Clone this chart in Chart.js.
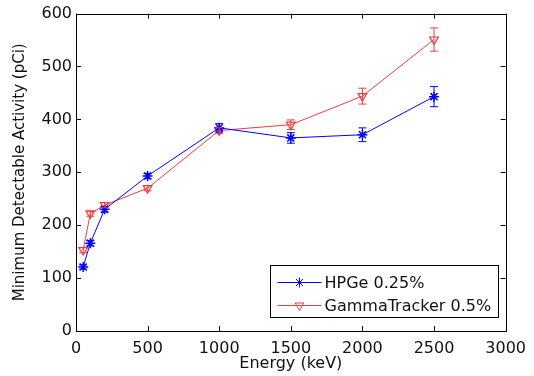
<!DOCTYPE html>
<html>
<head>
<meta charset="utf-8">
<script src="https://cdn.jsdelivr.net/npm/chart.js@4.4.1/dist/chart.umd.min.js"></script>
<style>
    html, body { margin: 0; padding: 0; background: #fff; }
    #wrap { width: 534px; height: 376px; }
</style>
</head>
<body>
<div id="wrap"><canvas id="mdaChart"></canvas></div>
<script>
// energies (keV) and minimum detectable activity (pCi)
const energias = [50, 100, 200, 500, 1000, 1500, 2000, 2500];
const hpgeMda = [121, 166, 230, 293, 384, 365, 371, 443];
const hpgeErr = [4, 5, 5, 5, 8, 10, 13, 19];
const gammaMda = [153, 222, 238, 270, 379, 390, 444, 551];
const gammaErr = [5, 5, 5, 5, 6, 9, 15, 22];
const xTicks = [0, 500, 1000, 1500, 2000, 2500, 3000];
const yTicks = [0, 100, 200, 300, 400, 500, 600];

const AZUL = '#0000ff';
const ROJO = '#f03c3c';
const FONT = "'DejaVu Sans', sans-serif";

const toPoints = (vals) => energias.map((e, i) => ({ x: e, y: vals[i] }));

// marco estilo MATLAB: caja completa con ticks hacia dentro
const framePlugin = {
    id: 'frame',
    afterDraw(chart) {
        const { ctx, chartArea: a, scales } = chart;
        const len = 5;
        ctx.save();
        ctx.strokeStyle = '#000';
        ctx.lineWidth = 1;
        ctx.beginPath();
        xTicks.forEach(v => {
            const px = Math.round(scales.x.getPixelForValue(v)) + 0.5;
            ctx.moveTo(px, a.bottom); ctx.lineTo(px, a.bottom - len);
            ctx.moveTo(px, a.top); ctx.lineTo(px, a.top + len);
        });
        yTicks.forEach(v => {
            const py = Math.round(scales.y.getPixelForValue(v)) + 0.5;
            ctx.moveTo(a.left, py); ctx.lineTo(a.left + len, py);
            ctx.moveTo(a.right, py); ctx.lineTo(a.right - len, py);
        });
        ctx.stroke();
        ctx.strokeRect(Math.round(a.left) + 0.5, Math.round(a.top) + 0.5,
            Math.round(a.right - a.left), Math.round(a.bottom - a.top));
        ctx.restore();
    }
};

// barras de error con los valores de cada serie
const errorPlugin = {
    id: 'errores',
    afterDatasetsDraw(chart) {
        const { ctx, scales } = chart;
        const cap = 4;
        ctx.save();
        ctx.lineWidth = 1;
        chart.data.datasets.forEach(ds => {
            ctx.strokeStyle = ds.borderColor;
            ctx.beginPath();
            ds.data.forEach((p, i) => {
                const px = scales.x.getPixelForValue(p.x);
                const y1 = scales.y.getPixelForValue(p.y - ds.errores[i]);
                const y2 = scales.y.getPixelForValue(p.y + ds.errores[i]);
                ctx.moveTo(px, y1); ctx.lineTo(px, y2);
                ctx.moveTo(px - cap, y1); ctx.lineTo(px + cap, y1);
                ctx.moveTo(px - cap, y2); ctx.lineTo(px + cap, y2);
            });
            ctx.stroke();
        });
        ctx.restore();
    }
};

// leyenda dentro del area, abajo a la derecha, con linea + marcador
const legendPlugin = {
    id: 'leyenda',
    afterDraw(chart) {
        const { ctx, chartArea: a } = chart;
        const sets = chart.data.datasets;
        ctx.save();
        ctx.font = `16px ${FONT}`;
        const textW = Math.max(...sets.map(d => ctx.measureText(d.label).width));
        const lineW = 44, pad = 7, rowH = 23;
        const w = pad + lineW + 3 + textW + pad;
        const h = rowH * sets.length + 6;
        const right = a.right - 8, bottom = a.bottom - 14;
        const left = Math.round(right - w) + 0.5, top = Math.round(bottom - h) + 0.5;
        ctx.fillStyle = '#fff';
        ctx.fillRect(left, top, w, h);
        ctx.strokeStyle = '#000';
        ctx.lineWidth = 1;
        ctx.strokeRect(left, top, Math.round(w), Math.round(h));
        sets.forEach((d, i) => {
            const cy = top + 17 + i * rowH;
            const x0 = left + pad;
            ctx.strokeStyle = d.borderColor;
            ctx.beginPath();
            ctx.moveTo(x0, cy); ctx.lineTo(x0 + lineW, cy);
            ctx.stroke();
            ctx.fillStyle = d.pointBackgroundColor;
            Chart.helpers.drawPoint(ctx, {
                pointStyle: d.pointStyle, rotation: d.pointRotation,
                radius: d.pointRadius, borderWidth: d.pointBorderWidth
            }, x0 + lineW / 2, cy);
            ctx.fillStyle = '#111';
            ctx.textBaseline = 'middle';
            ctx.fillText(d.label, x0 + lineW + 3, cy + 1);
        });
        ctx.restore();
    }
};

const canvas = document.getElementById('mdaChart');
const mdaChart = new Chart(canvas, {
    type: 'line',
    data: {
        datasets: [
            {
                label: 'HPGe 0.25%',
                data: toPoints(hpgeMda),
                errores: hpgeErr,
                borderColor: AZUL,
                backgroundColor: AZUL,
                borderWidth: 1,
                pointStyle: 'star',
                pointRotation: 0,
                pointRadius: 5,
                pointBorderWidth: 1.5,
                pointBorderColor: AZUL,
                pointBackgroundColor: AZUL,
                tension: 0
            },
            {
                label: 'GammaTracker 0.5%',
                data: toPoints(gammaMda),
                errores: gammaErr,
                borderColor: ROJO,
                backgroundColor: ROJO,
                borderWidth: 1,
                pointStyle: 'triangle',
                pointRotation: 180,
                pointRadius: 5,
                pointBorderWidth: 1.2,
                pointBorderColor: ROJO,
                pointBackgroundColor: 'rgba(0,0,0,0)',
                tension: 0
            }
        ]
    },
    options: {
        responsive: true,
        maintainAspectRatio: false,
        animation: false,
        layout: { padding: { top: 13, right: 24, bottom: 0, left: 0 } },
        plugins: {
            legend: { display: false },
            tooltip: { enabled: false }
        },
        scales: {
            x: {
                type: 'linear',
                min: 0,
                max: 3000,
                afterBuildTicks: s => { s.ticks = xTicks.map(v => ({ value: v })); },
                afterFit: s => { s.height = 45; },
                grid: { display: false, drawTicks: false },
                border: { display: false },
                ticks: {
                    padding: 8,
                    color: '#111',
                    font: { family: FONT, size: 16 },
                    callback: v => String(v)
                },
                title: {
                    display: true,
                    text: 'Energy (keV)',
                    color: '#111',
                    padding: { top: 0, bottom: 3 },
                    font: { family: FONT, size: 16 }
                }
            },
            y: {
                min: 0,
                max: 600,
                afterBuildTicks: s => { s.ticks = yTicks.map(v => ({ value: v })); },
                afterFit: s => { s.width = 76; },
                grid: { display: false, drawTicks: false },
                border: { display: false },
                ticks: {
                    padding: 4,
                    color: '#111',
                    font: { family: FONT, size: 16 },
                    callback: v => String(v)
                },
                title: {
                    display: true,
                    text: 'Minimum Detectable Activity (pCi)',
                    color: '#111',
                    padding: { top: 11, bottom: 0 },
                    font: { family: FONT, size: 15 }
                }
            }
        }
    },
    plugins: [errorPlugin, framePlugin, legendPlugin]
});
</script>
</body>
</html>
